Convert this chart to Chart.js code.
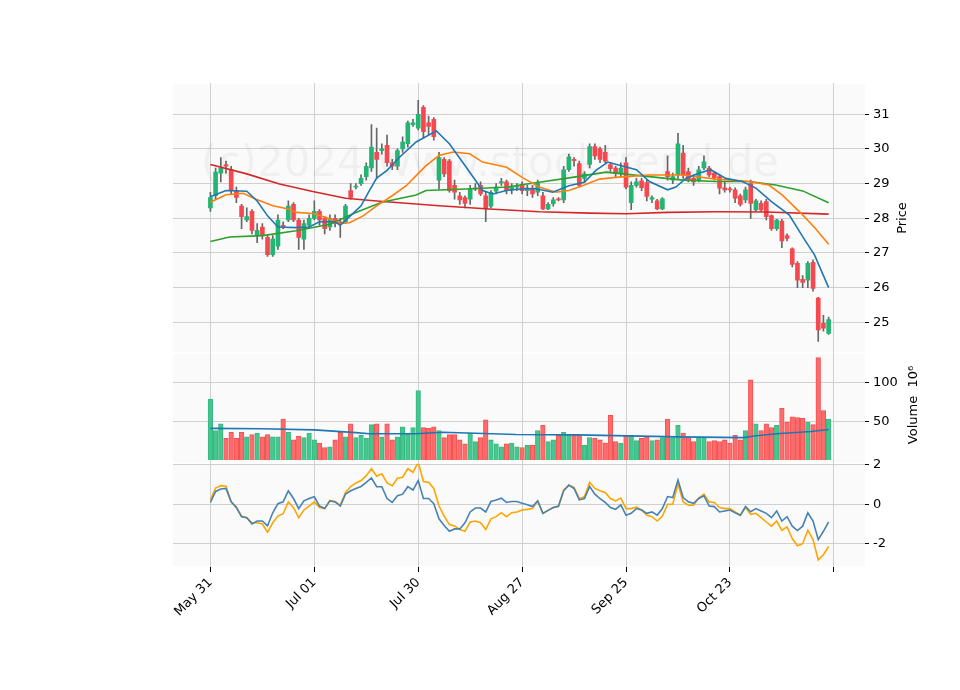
<!DOCTYPE html>
<html><head><meta charset="utf-8">
<script src="https://cdn.jsdelivr.net/npm/chart.js@4.4.1/dist/chart.umd.min.js"></script>
<style>html,body{margin:0;padding:0;background:#fff}</style>
</head><body>
<canvas id="c" width="960" height="690"></canvas>
<script>
const xTickLabels = {0:'May 31',20:'Jul 01',40:'Jul 30',60:'Aug 27',80:'Sep 25',100:'Oct 23',120:''};
const opens = [28.3,28.65,29.3,29.55,29.4,28.8,28.35,27.95,28.2,27.5,27.75,27.45,26.95,27.2,27.8,27.95,28.4,27.95,27.4,27.8,
28.0,28.2,28.0,27.75,28.0,27.9,27.9,28.8,28.9,29.0,29.2,29.45,29.9,29.95,30.1,29.6,29.5,30.0,30.15,30.7,
30.6,31.2,30.75,30.85,29.1,29.7,29.65,28.95,28.65,28.6,28.55,28.85,28.95,28.65,28.35,28.78,29.02,29.05,28.82,28.9,
28.97,28.8,28.87,28.75,28.65,28.27,28.42,28.55,28.53,29.4,29.7,29.58,29.15,29.55,30.07,30.0,29.9,29.55,29.45,29.3,
29.6,28.45,28.95,29.08,29.03,28.55,28.5,28.27,29.35,29.1,29.25,29.88,29.35,29.15,29.1,29.45,29.45,29.3,29.2,28.88,
28.85,28.82,28.65,28.53,29.0,28.24,28.43,28.48,28.08,27.7,27.92,27.5,27.12,26.7,26.24,26.22,26.73,25.7,24.97,24.68];
const closes = [28.6,29.33,29.45,29.5,28.8,28.6,28.05,28.05,27.65,27.65,27.5,26.95,27.4,27.95,27.75,28.35,27.95,27.45,27.85,28.0,
28.2,27.95,27.7,28.0,27.85,27.85,28.35,28.6,28.92,29.15,29.5,30.05,29.7,30.0,29.6,29.5,29.95,30.2,30.75,30.75,
31.0,30.5,30.65,30.35,29.75,29.28,28.8,28.75,28.53,28.43,28.85,28.87,28.7,28.27,28.75,28.9,29.06,28.8,28.9,28.92,
28.8,28.87,28.7,29.0,28.27,28.4,28.53,28.53,29.4,29.77,29.66,28.95,29.28,30.07,29.8,29.7,29.65,29.43,29.3,29.45,
28.9,28.95,29.05,28.88,28.63,28.6,28.27,28.56,29.2,29.2,30.15,29.25,29.1,29.05,29.4,29.63,29.25,29.17,28.87,28.82,
28.82,28.58,28.4,28.82,28.43,28.5,28.24,28.05,27.7,27.95,27.35,27.42,26.67,26.22,26.15,26.7,25.98,24.78,24.83,25.08];
const highs = [28.75,29.45,29.75,29.65,29.5,28.9,28.4,28.3,28.25,27.85,27.85,27.5,27.5,28.1,27.9,28.5,28.45,28.0,27.95,28.1,
28.5,28.25,28.05,28.1,28.1,28.0,28.4,29.0,29.0,29.25,29.6,30.7,30.6,30.15,30.4,29.7,30.0,30.35,30.8,30.85,
31.4,31.25,30.95,30.9,29.9,29.75,29.7,29.1,28.75,28.65,28.95,29.0,29.05,28.75,28.8,29.0,29.15,29.1,29.0,29.0,
29.05,28.95,28.95,29.1,28.75,28.45,28.6,28.6,29.5,29.85,29.75,29.65,29.35,30.15,30.15,30.05,30.1,29.6,29.5,29.6,
29.75,29.05,29.15,29.15,29.1,28.65,28.55,28.6,29.8,29.3,30.45,30.1,29.45,29.25,29.5,29.8,29.5,29.35,29.25,29.05,
28.9,28.88,28.7,28.9,29.1,28.55,28.5,28.55,28.1,27.97,27.97,27.55,27.15,26.75,26.35,26.75,26.8,25.72,25.2,25.15];
const lows = [28.2,28.55,29.05,29.3,28.7,28.45,27.7,27.9,27.55,27.3,27.4,26.9,26.9,27.1,27.7,27.9,27.9,27.1,27.1,27.7,
27.95,27.8,27.55,27.65,27.75,27.45,27.85,28.55,28.85,28.95,29.1,29.35,29.15,29.85,29.5,29.4,29.4,29.9,30.05,30.65,
30.55,30.3,30.4,30.25,28.85,29.2,28.75,28.55,28.4,28.3,28.4,28.8,28.65,27.9,28.3,28.7,28.95,28.7,28.7,28.8,
28.7,28.65,28.6,28.65,28.25,28.25,28.35,28.5,28.45,29.35,29.5,28.9,29.05,29.45,29.7,29.6,29.6,29.35,29.2,29.2,
28.85,28.25,28.9,28.8,28.5,28.45,28.25,28.25,29.1,29.0,29.15,29.15,29.05,28.95,29.05,29.4,29.2,29.1,28.7,28.75,
28.75,28.45,28.35,28.45,28.0,28.2,28.2,27.95,27.65,27.65,27.15,27.35,26.6,26.0,26.0,26.0,25.9,24.45,24.75,24.65];
const volumes = [79,38,47,28,36,28,36,30,33,35,30,33,30,30,53,36,26,31,29,35,
26,22,16,17,26,36,30,47,29,32,28,46,47,30,47,26,30,43,35,42,
90,42,41,43,38,29,33,33,26,21,35,24,29,52,26,21,17,21,22,17,
16,19,19,38,45,24,26,32,36,33,32,32,19,29,28,26,22,58,24,22,
32,32,25,28,30,25,26,29,53,29,45,35,29,24,29,29,24,25,24,26,
22,32,26,38,104,47,38,47,42,45,67,49,56,55,54,49,46,133,64,53];
const ma1 = [[0,28.62],[3,28.8],[7,28.78],[9,28.5],[11,28.07],[13,27.75],[16.5,27.73],[19,27.75],[21,27.9],[24,27.9],[25,27.8],[26.8,28.05],[29,28.36],[30.6,28.8],[32,29.16],[34,29.38],[36.4,29.76],[39.6,30.2],[43.5,30.52],[46,30.15],[49,29.52],[52.4,28.8],[54.4,28.7],[57,28.8],[60,28.85],[62.7,28.85],[65.9,28.75],[69,28.94],[72,29.04],[74.2,29.38],[76.5,29.62],[78,29.56],[82,29.4],[84.5,29.06],[88,28.82],[89.6,28.9],[91.5,29.15],[94,29.3],[96.3,29.4],[99.2,29.15],[102.4,29.06],[105,28.87],[108,28.48],[111.4,28.1],[114,27.47],[116.3,26.94],[119,26.0]];
const ma2 = [[0,28.46],[3,28.68],[6.3,28.72],[8.8,28.55],[12,28.36],[15,28.27],[16.5,28.17],[19.7,28.14],[22.3,28.02],[24.9,27.85],[26.8,27.87],[29.4,28.07],[32,28.36],[35,28.65],[37.7,28.94],[39.6,29.23],[41.5,29.52],[44,29.81],[46.7,29.91],[49.9,29.86],[52.4,29.62],[57,29.47],[60,29.18],[63.3,28.9],[66.5,28.75],[69,28.8],[71.6,28.94],[74.9,29.13],[78,29.18],[84.5,29.25],[91,29.25],[97.3,29.13],[103.7,29.06],[107.5,28.96],[110.1,28.67],[114,28.1],[116.5,27.7],[119,27.25]];
const ma3 = [[0,27.33],[3.7,27.46],[10,27.5],[16.5,27.64],[23,27.83],[28,28.17],[33,28.46],[39.6,28.67],[41.5,28.8],[50.5,28.85],[57,28.9],[63.3,29.04],[69.7,29.18],[76.2,29.33],[84.5,29.2],[91,29.1],[97.3,29.06],[103.7,29.06],[108.8,28.96],[114,28.79],[119,28.45]];
const ma4 = [[0,29.55],[7,29.28],[13.3,28.99],[19.7,28.77],[26,28.58],[32.6,28.49],[39.6,28.41],[44,28.36],[53.7,28.27],[63.3,28.19],[73,28.15],[80,28.13],[88,28.17],[97.3,28.19],[107,28.18],[119,28.12]];
const volMA = [[0,41],[10,40.5],[20,39],[28,35.5],[30.6,34],[39.6,34],[44.7,36],[58.8,33],[70.6,32.5],[90,30],[102.7,29],[104.6,31],[109,34],[115.6,37],[119,39.5]];
const indBlue = [0.09,0.65,0.77,0.8,0.12,-0.17,-0.63,-0.68,-1.0,-0.85,-0.85,-1.1,-0.43,0.03,0.12,0.68,0.29,-0.22,0.17,0.29,
0.38,-0.09,-0.22,0.17,0.12,-0.09,0.51,0.68,0.8,0.9,1.11,1.33,0.89,0.89,0.29,0.09,0.43,0.51,0.89,0.72,
1.2,0.29,0.29,0.03,-0.74,-1.08,-1.37,-1.25,-1.25,-0.94,-0.39,-0.19,-0.19,-0.39,0.14,0.22,0.31,0.09,0.14,0.14,
0.05,-0.03,-0.12,0.17,-0.46,-0.31,-0.17,-0.09,0.68,0.97,0.8,0.22,0.29,0.9,0.51,0.29,0.09,-0.17,-0.26,-0.03,
-0.56,-0.46,-0.22,-0.29,-0.46,-0.39,-0.55,-0.22,0.39,0.34,1.23,0.34,0.12,0.05,0.29,0.43,-0.09,-0.12,-0.39,-0.34,
-0.29,-0.43,-0.56,-0.12,-0.38,-0.22,-0.34,-0.46,-0.68,-0.34,-0.85,-0.63,-1.11,-1.33,-1.11,-0.43,-0.85,-1.79,-1.37,-0.89];
const indOrange = [0.22,0.82,0.94,0.91,0.12,-0.14,-0.6,-0.68,-0.94,-0.94,-1.0,-1.42,-0.94,-0.6,-0.48,0.12,-0.17,-0.68,-0.29,-0.09,
0.12,-0.17,-0.22,0.2,0.14,-0.05,0.6,0.9,1.08,1.2,1.45,1.8,1.42,1.54,1.08,0.94,1.32,1.37,1.8,1.62,
2.14,1.15,1.11,0.8,-0.09,-0.6,-1.03,-1.1,-1.28,-1.37,-0.9,-0.85,-0.94,-1.28,-0.74,-0.63,-0.43,-0.63,-0.43,-0.39,
-0.29,-0.26,-0.22,0.17,-0.46,-0.31,-0.17,-0.12,0.72,0.97,0.85,0.29,0.38,1.11,0.8,0.68,0.6,0.29,0.17,0.31,
-0.22,-0.22,-0.14,-0.29,-0.56,-0.63,-0.85,-0.6,0.0,0.0,1.03,0.12,-0.05,-0.05,0.31,0.51,0.12,0.09,-0.17,-0.22,
-0.22,-0.39,-0.56,-0.17,-0.51,-0.46,-0.68,-0.9,-1.11,-0.85,-1.32,-1.15,-1.74,-2.1,-2.0,-1.32,-1.79,-2.82,-2.56,-2.14];

const UP='#22b573', DN='#f8484f', VUP='rgba(60,196,138,0.95)', VDN='rgba(255,100,100,0.95)';
const idx = opens.map((_,i)=>i);
const isUp = idx.map(i=>closes[i]>=opens[i]);
const pts = a => a.map(p=>({x:p[0],y:p[1]}));
const seq = a => a.map((v,i)=>({x:i,y:v}));

const bgPlugin = {
  id:'bg',
  beforeDraw(ch){
    const c=ch.ctx, a=ch.chartArea;
    c.save(); c.fillStyle='#fafafa';
    ['y','yv','yi'].forEach(id=>{const s=ch.scales[id]; c.fillRect(a.left,s.top+1,a.right-a.left,s.bottom-s.top-2);});
    c.restore();
  },
  beforeDatasetsDraw(ch){
    const c=ch.ctx;
    c.save(); c.font='42px "DejaVu Sans"'; c.fillStyle='rgba(0,0,0,0.04)'; c.textAlign='center'; c.textBaseline='middle';
    c.fillText('(c)2024 www.stocktrend.de',490,165); c.restore();
  },
  afterDraw(ch){
    const c=ch.ctx;
    c.save(); c.fillStyle='#000'; c.font='13px "DejaVu Sans"'; c.textAlign='center'; c.textBaseline='middle';
    c.translate(903,218); c.rotate(-Math.PI/2); c.fillText('Price',0,0); c.restore();
    c.save(); c.fillStyle='#000'; c.font='13px "DejaVu Sans"'; c.textAlign='center'; c.textBaseline='middle';
    c.translate(914,405); c.rotate(-Math.PI/2); c.fillText('Volume  10\u2076',0,0); c.restore();
  }
};
const yCommon = (extra)=>Object.assign({position:'right',stack:'p',border:{display:false},
  grid:{color:'#d0d0d0',tickColor:'#000',tickLength:4},
  ticks:{color:'#000',font:{family:'DejaVu Sans',size:13},padding:4},
  afterFit(s){s.width=45;}},extra);

new Chart(document.getElementById('c'),{
  data:{datasets:[
    {type:'bar',label:'wick',data:idx.map(i=>({x:i,y:[lows[i],highs[i]]})),backgroundColor:'#666',barThickness:1,yAxisID:'y',grouped:false,order:3},
    {type:'bar',label:'body',data:idx.map(i=>({x:i,y:[opens[i],closes[i]]})),backgroundColor:isUp.map(u=>u?UP:DN),barThickness:4,minBarLength:1,yAxisID:'y',grouped:false,order:2},
    {type:'line',data:pts(ma1),borderColor:'#1f77b4',borderWidth:1.6,pointRadius:0,yAxisID:'y',order:1},
    {type:'line',data:pts(ma2),borderColor:'#ff7f0e',borderWidth:1.6,pointRadius:0,yAxisID:'y',order:1},
    {type:'line',data:pts(ma3),borderColor:'#2ca02c',borderWidth:1.6,pointRadius:0,yAxisID:'y',order:1},
    {type:'line',data:pts(ma4),borderColor:'#d62728',borderWidth:1.6,pointRadius:0,yAxisID:'y',order:1},
    {type:'bar',data:seq(volumes),backgroundColor:isUp.map(u=>u?VUP:VDN),borderColor:isUp.map(u=>u?'#3cb57f':'#f05050'),borderWidth:0.8,barThickness:4.6,yAxisID:'yv',grouped:false,order:2},
    {type:'line',data:pts(volMA),borderColor:'#1f77b4',borderWidth:1.6,pointRadius:0,yAxisID:'yv',order:1},
    {type:'line',data:seq(indBlue),borderColor:'#4682b4',borderWidth:1.6,pointRadius:0,yAxisID:'yi',order:1},
    {type:'line',data:seq(indOrange),borderColor:'#ffa500',borderWidth:1.6,pointRadius:0,yAxisID:'yi',order:1}
  ]},
  options:{
    responsive:false,animation:false,
    layout:{padding:{left:173,top:83,right:50,bottom:0}},
    plugins:{legend:{display:false},tooltip:{enabled:false}},
    scales:{
      x:{type:'linear',min:-7.2,max:126,offset:false,border:{display:false},
        grid:{color:'#d0d0d0',tickColor:'#000',tickLength:5,offset:false},
        afterBuildTicks(s){s.ticks=[0,20,40,60,80,100,120].map(v=>({value:v}));},
        afterFit(s){s.height=123;},
        ticks:{color:'#000',font:{family:'DejaVu Sans',size:13},maxRotation:45,minRotation:45,autoSkip:false,
          callback:v=>xTickLabels[v]??''}},
      y:yCommon({min:24.13,max:31.9,stackWeight:269,
        afterBuildTicks(s){s.ticks=[25,26,27,28,29,30,31].map(v=>({value:v}));}}),
      yv:yCommon({min:-5,max:139.5,stackWeight:111,
        afterBuildTicks(s){s.ticks=[50,100].map(v=>({value:v}));}}),
      yi:yCommon({min:-3.18,max:2.05,stackWeight:103,
        afterBuildTicks(s){s.ticks=[-2,0,2].map(v=>({value:v}));}})
    }
  },
  plugins:[bgPlugin]
});
</script>
</body></html>
